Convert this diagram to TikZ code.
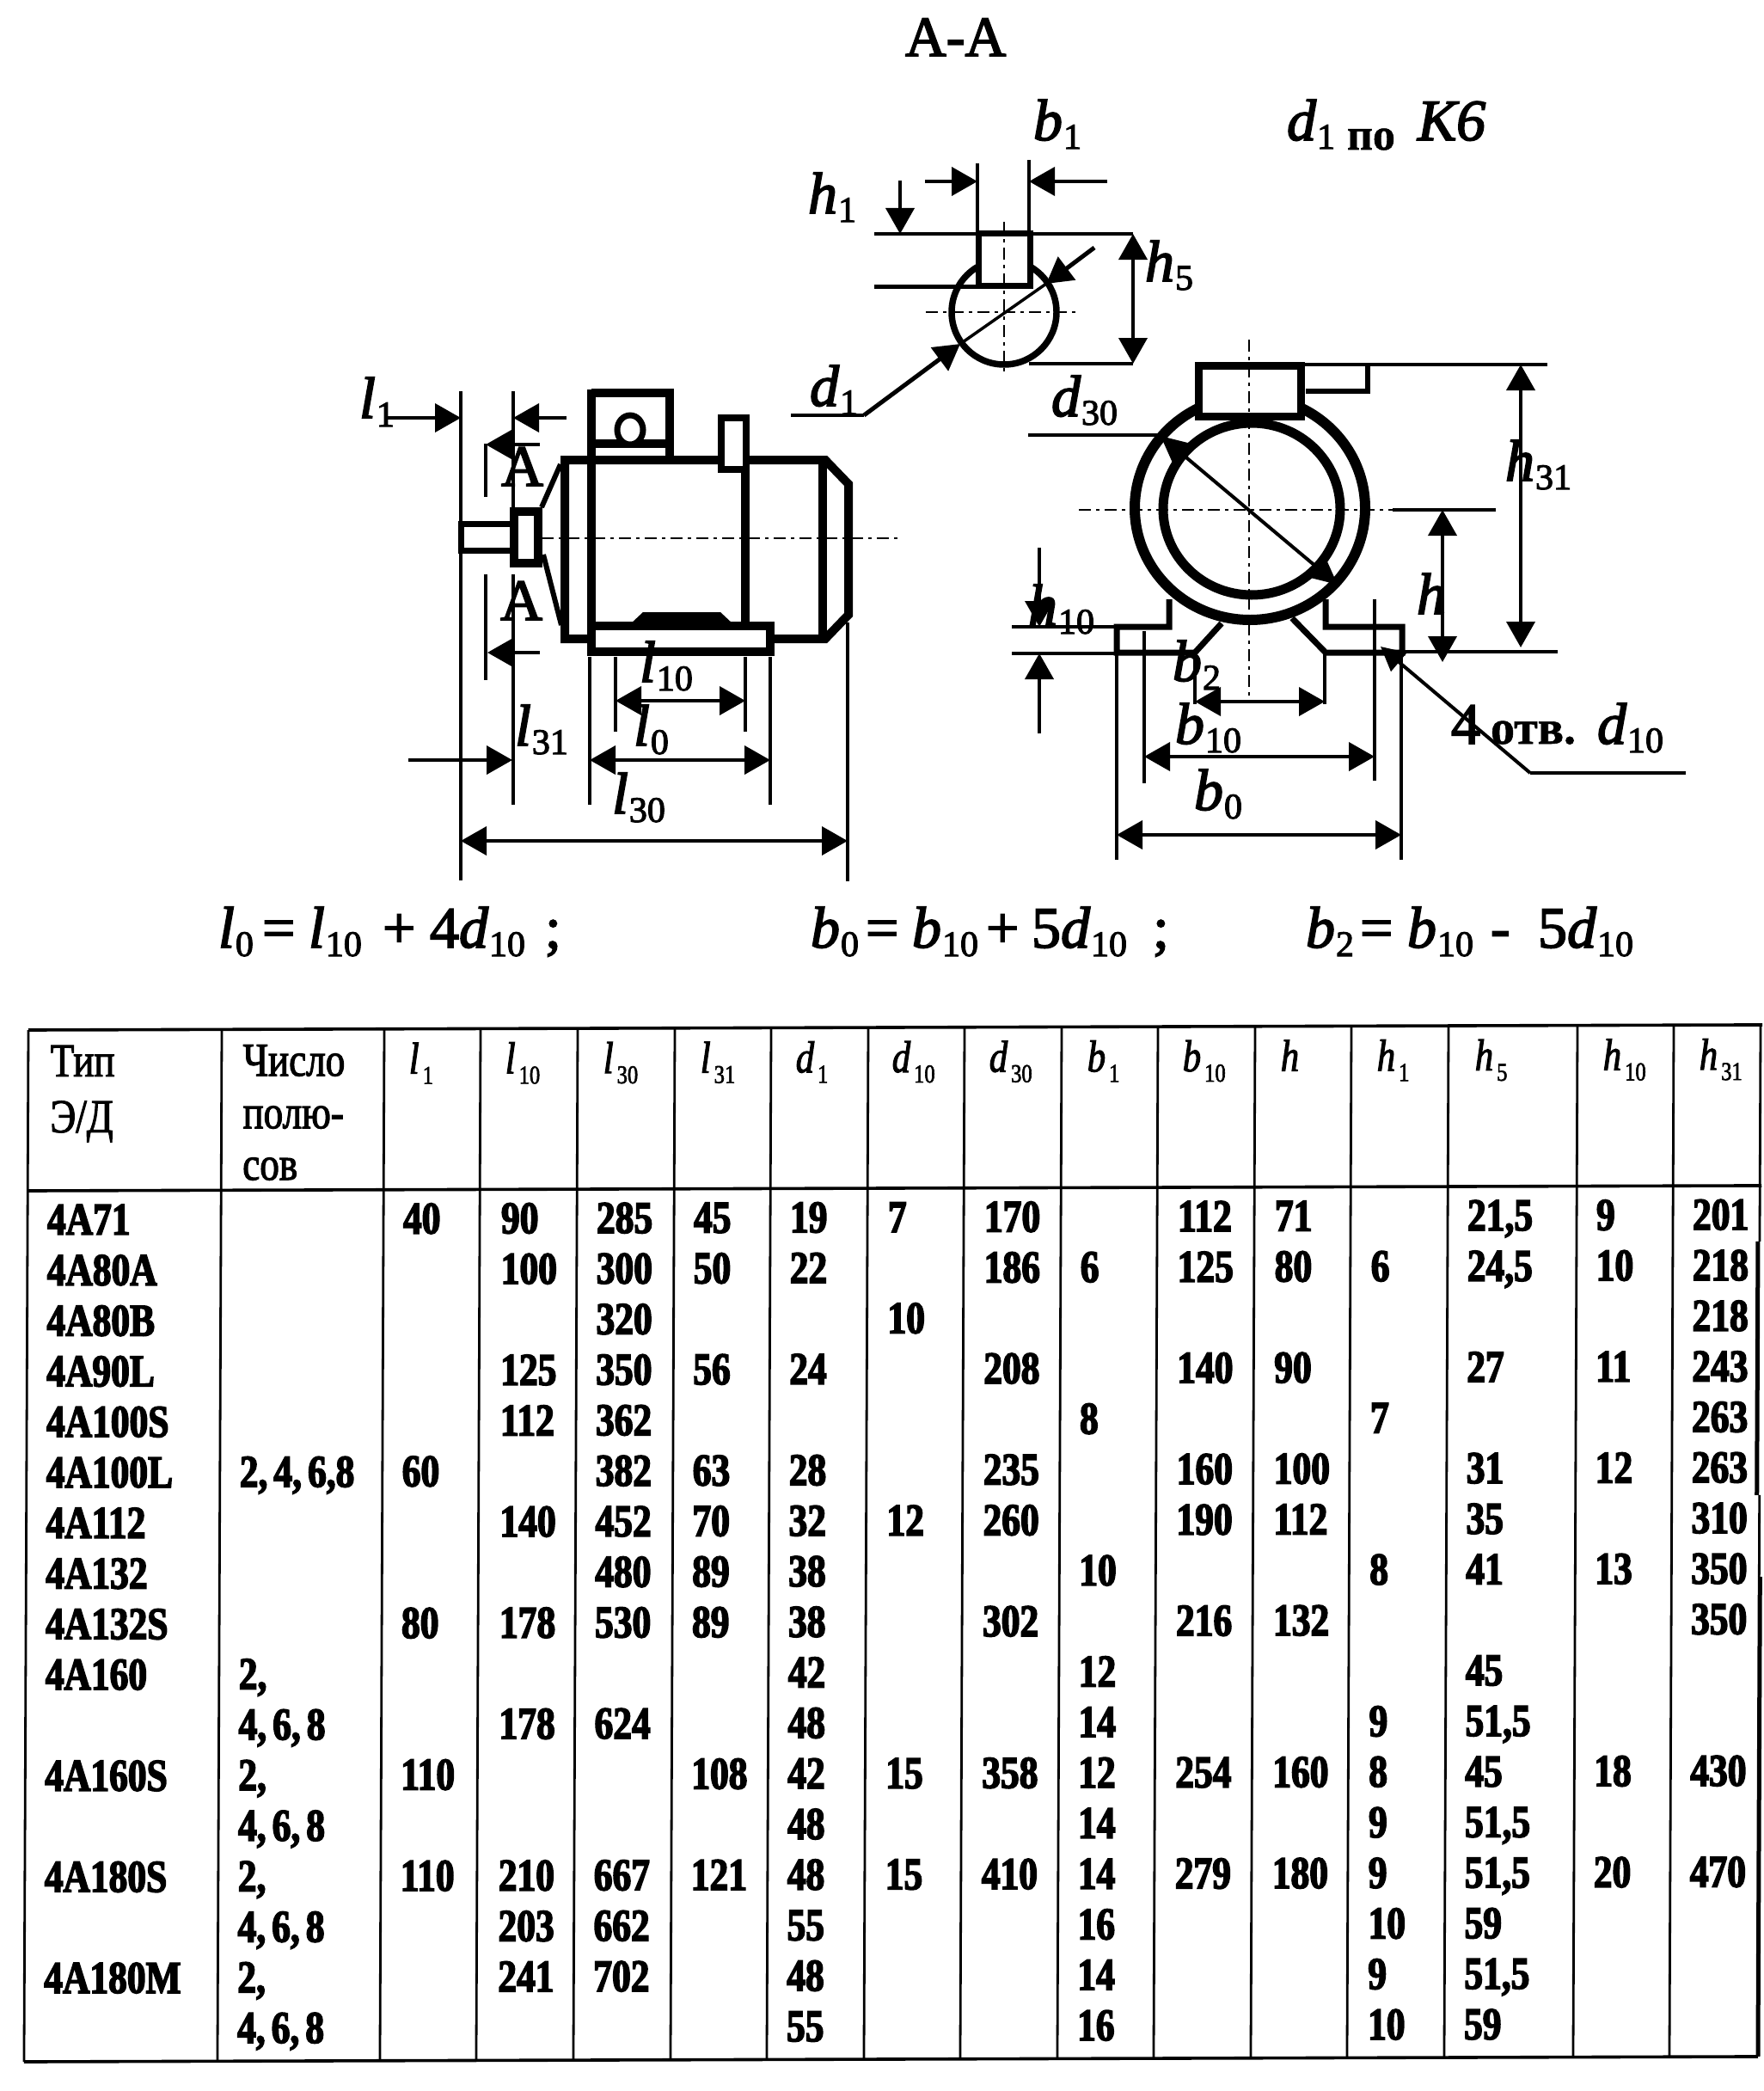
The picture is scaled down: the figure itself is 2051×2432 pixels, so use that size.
\documentclass[tikz,border=0pt]{standalone}
\usepackage{fontspec}
\usetikzlibrary{arrows.meta}
\setmainfont{Liberation Serif}
\newfontfamily\labfam[FakeBold=2.5]{Liberation Serif}
\newfontfamily\tabfam[FakeStretch=0.82,FakeBold=2]{Liberation Serif}
\newfontfamily\tabboldfam[FakeStretch=0.82,FakeBold=3,WordSpace=0.65,UprightFont=*,BoldFont=*]{Liberation Serif Bold}
\newfontfamily\smallfam[FakeBold=1]{Liberation Serif Bold}
\newcommand{\bigfs}{\fontsize{68}{68}\selectfont}
\newcommand{\subfs}{\fontsize{42}{42}\selectfont}
\newcommand{\sym}[2]{{\labfam\bigfs\itshape #1}\kern1pt\raisebox{-10pt}{\labfam\subfs #2}}
\newcommand{\up}[1]{{\labfam\bigfs #1}}
\newcommand{\hd}[2]{{\tabfam\fontsize{52}{52}\selectfont\itshape #1}\kern4pt\raisebox{-12pt}{\tabfam\fontsize{30}{30}\selectfont #2}}
\newcommand{\htx}[1]{{\tabfam\fontsize{55}{55}\selectfont #1}}
\tikzset{
  lab/.style={anchor=base west,inner sep=0pt,outer sep=0pt},
  cellnode/.style={anchor=base west,inner sep=0pt,outer sep=0pt,font=\tabboldfam\fontsize{53}{53}\selectfont},
  ext/.style={line width=3.2pt},
  both/.style={line width=4pt,{Triangle[length=30pt,width=33pt]}-{Triangle[length=30pt,width=33pt]}},
  tipend/.style={line width=4pt,-{Triangle[length=30pt,width=33pt]}},
  heavy/.style={line width=10pt,line join=miter},
  mid/.style={line width=7pt,line join=miter},
  cline/.style={line width=2.6pt,dash pattern=on 14pt off 6pt on 4pt off 6pt},
  grid/.style={line width=2.8pt},
}
\newcommand{\cells}[2]{\foreach \rw/\tx in {#2}{\pgfmathsetmacro\yy{1436+58.8*\rw}\node[cellnode] (c#1r\rw) at (#1,\yy) {\tx};}}
\begin{document}
\begin{tikzpicture}[x=1pt,y=-1pt]
\fill[white] (0,0) rectangle (2051,2432);
\useasboundingbox (0,0) rectangle (2051,2432);

% ---------- texts above
\node[lab] (title) at (1053,65) {\labfam\fontsize{66}{66}\selectfont A-A};
\node[lab] (dpo) at (1497,163) {\sym{d}{1}};
\node[lab] (po) at (1567,174) {\smallfam\fontsize{52}{52}\selectfont по};
\node[lab] (ksix) at (1649,163) {{\labfam\bigfs\itshape К6}};

% ---------- section A-A
\draw[line width=7.5pt] (1168,363) circle (61);
\draw[mid,fill=white] (1138,272) rectangle (1198,332);
\draw[line width=4pt] (1017,272) -- (1318,272);
\draw[line width=5pt] (1017,333) -- (1137,333);
\draw[line width=4pt] (1197,423) -- (1318,423);
\draw[ext] (1137,190) -- (1137,272);
\draw[ext] (1197,186) -- (1197,272);
\draw[tipend] (1076,211) -- (1137,211);
\draw[tipend] (1288,211) -- (1197,211);
\draw[tipend] (1047,210) -- (1047,272);
\draw[both] (1318,272) -- (1318,423);
\draw[cline] (1168,258) -- (1168,435);
\draw[cline] (1077,363) -- (1255,363);
\draw[line width=4pt] (920,483) -- (1005,483);
\draw[line width=5pt,-{Triangle[length=30pt,width=33pt]}] (1005,483) -- (1117,400);
\draw[line width=3.5pt] (1117,400) -- (1217,330);
\draw[line width=5pt,-{Triangle[length=30pt,width=33pt]}] (1273,288) -- (1217,330);
\node[lab] (b1) at (1202,163) {\sym{b}{1}};
\node[lab] (h1) at (940,248) {\sym{h}{1}};
\node[lab] (h5) at (1332,327) {\sym{h}{5}};
\node[lab] (d1) at (942,472) {\sym{d}{1}};

% ---------- side view
\draw[ext] (536,455) -- (536,1024);
\draw[ext] (597,455) -- (597,590);
\draw[ext] (597,668) -- (597,936);
\draw[ext] (565,516) -- (565,578);
\draw[ext] (565,668) -- (565,791);
\draw[tipend] (449,486) -- (536,486);
\draw[tipend] (659,486) -- (597,486);
\draw[tipend] (628,517) -- (565,517);
\draw[tipend] (628,759) -- (567,759);
% body
\draw[heavy] (900,743) -- (960,743) -- (987,715) -- (987,563) -- (960,535) -- (657,535) -- (657,743) -- (690,743);
\draw[heavy] (688,453) -- (688,758);
\draw[heavy] (867,535) -- (867,728);
\draw[heavy] (957,535) -- (957,743);
% cone
\draw[line width=6pt] (630,590) -- (652,540);
\draw[line width=6pt] (632,645) -- (653,727);
% junction box
\draw[heavy] (688,457) -- (779,457) -- (779,535);
\draw[heavy] (688,516) -- (779,516);
\draw[line width=7pt,fill=white] (733,500) ellipse (15 and 17);
\draw[heavy,line width=8pt,fill=white] (839,486) rectangle (868,546);
% shaft & bearing
\draw[mid] (594,609) -- (536,609) -- (536,640) -- (594,640);
\draw[heavy] (598,595) rectangle (626,655);
\draw[cline] (630,626) -- (1045,626);
% foot
\draw[heavy] (688,728) -- (896,728) -- (896,758) -- (688,758) -- cycle;
\fill (733,726) -- (748,712) -- (838,712) -- (853,726) -- cycle;
% extension lines
\draw[ext] (686,764) -- (686,936);
\draw[ext] (716,764) -- (716,851);
\draw[ext] (867,764) -- (867,851);
\draw[ext] (896,764) -- (896,936);
\draw[ext] (986,724) -- (986,1025);
% dims
\draw[both] (716,815) -- (867,815);
\draw[both] (686,884) -- (896,884);
\draw[tipend] (475,884) -- (596,884);
\draw[both] (536,978) -- (986,978);
\node[lab] (A1) at (583,565) {\up{A}};
\node[lab] (A2) at (582,721) {\up{A}};
\node[lab] (l1) at (418,486) {\sym{l}{1}};
\node[lab] (l10) at (744,793) {\sym{l}{10}};
\node[lab] (l0) at (737,867) {\sym{l}{0}};
\node[lab] (l31) at (599,867) {\sym{l}{31}};
\node[lab] (l30) at (712,946) {\sym{l}{30}};

% ---------- end view
\draw[line width=12pt] (1454,591) ellipse (134 and 130);
\draw[line width=11pt] (1456,592) ellipse (103 and 100);
\draw[heavy,line width=9pt,fill=white] (1394,425) rectangle (1513,484);
\draw[line width=6pt] (1519,455) -- (1591,455) -- (1591,424);
\draw[line width=3.5pt] (1513,424) -- (1800,424);
\draw[cline] (1453,395) -- (1453,816);
\draw[cline] (1255,593) -- (1620,593);
\draw[line width=3.5pt] (1620,593) -- (1740,593);
\draw[line width=4pt,{Triangle[length=30pt,width=28pt]}-{Triangle[length=30pt,width=28pt]}] (1350,507) -- (1556,680);
\draw[ext] (1196,506) -- (1350,506);
\draw[mid] (1360,697) -- (1360,729) -- (1299,729) -- (1299,759) -- (1390,759) -- (1421,725);
\draw[mid] (1503,719) -- (1542,759) -- (1631,759) -- (1631,729) -- (1542,729) -- (1542,697);
\draw[line width=3.5pt] (1177,729) -- (1299,729);
\draw[line width=3.5pt] (1177,760) -- (1299,760);
\draw[line width=3.5pt] (1631,758) -- (1812,758);
\draw[tipend] (1209,637) -- (1209,729);
\draw[tipend] (1209,853) -- (1209,760);
\draw[ext] (1299,760) -- (1299,1000);
\draw[ext] (1331,734) -- (1331,911);
\draw[ext] (1599,697) -- (1599,908);
\draw[ext] (1630,760) -- (1630,1000);
\draw[ext] (1390,760) -- (1390,819);
\draw[ext] (1541,760) -- (1541,819);
\draw[both] (1390,816) -- (1541,816);
\draw[both] (1331,880) -- (1599,880);
\draw[both] (1299,971) -- (1630,971);
\draw[both] (1678,593) -- (1678,770);
\draw[both] (1769,424) -- (1769,753);
\draw[line width=3.5pt] (1961,899) -- (1780,899);
\draw[line width=4pt,-{Triangle[length=28pt,width=28pt]}] (1780,899) -- (1606,752);
\node[lab] (d30) at (1223,484) {\sym{d}{30}};
\node[lab] (h31) at (1751,559) {\sym{h}{31}};
\node[lab] (h) at (1648,714) {{\labfam\bigfs\itshape h}};
\node[lab] (h10) at (1196,727) {\sym{h}{10}};
\node[lab] (b2) at (1364,792) {\sym{b}{2}};
\node[lab] (b10) at (1367,865) {\sym{b}{10}};
\node[lab] (b0) at (1389,942) {\sym{b}{0}};
\node[lab] (four) at (1688,865) {\up{4}};
\node[lab] (otv) at (1734,865) {\smallfam\fontsize{56}{56}\selectfont отв.};
\node[lab] (d10) at (1858,865) {\sym{d}{10}};

% ---------- equations
\node[lab] (e1) at (254,1102) {\sym{l}{0}};
\node[lab] (e2) at (305,1102) {\up{=}};
\node[lab] (e3) at (359,1102) {\sym{l}{10}};
\node[lab] (e4) at (445,1102) {\up{+}};
\node[lab] (e5) at (500,1102) {\up{4}\sym{d}{10}};
\node[lab] (e6) at (634,1102) {\up{;}};
\node[lab] (f1) at (943,1102) {\sym{b}{0}};
\node[lab] (f2) at (1007,1102) {\up{=}};
\node[lab] (f3) at (1061,1102) {\sym{b}{10}};
\node[lab] (f4) at (1147,1102) {\up{+}};
\node[lab] (f5) at (1200,1102) {\up{5}\sym{d}{10}};
\node[lab] (f6) at (1341,1102) {\up{;}};
\node[lab] (g1) at (1519,1102) {\sym{b}{2}};
\node[lab] (g2) at (1582,1102) {\up{=}};
\node[lab] (g3) at (1637,1102) {\sym{b}{10}};
\node[lab] (g4) at (1734,1102) {\up{-}};
\node[lab] (g5) at (1789,1102) {\up{5}\sym{d}{10}};

% ---------- table (slightly skewed scan)
\begin{scope}[cm={1,0.003,0.0042,1,(5.03pt,-0.1pt)}]
\draw[line width=3.6pt] (33,1198) -- (2050,1198);
\draw[line width=3.6pt] (33,1385) -- (2050,1385);
\draw[line width=3.6pt] (33,2398) -- (2050,2398);
\foreach \cx in {33,258,447,559,672,785,897,1010,1122,1235,1347,1460,1572,1685,1835,1947}
  \draw[grid] (\cx,1198) -- (\cx,2398);
\draw[grid] (2048,1198) -- (2048,1450);
\draw[line width=5pt] (2046,1450) -- (2046,1745);
\draw[grid] (2049,1745) -- (2049,1840);
\draw[line width=5pt] (2050,1840) -- (2050,2398);
% header
\node[lab] (h-a) at (59,1252) {\htx{Тип}};
\node[lab] (h-b) at (59,1317) {\htx{Э/Д}};
\node[lab] (h-c) at (283,1252) {\htx{Число}};
\node[lab] (h-d) at (283,1313) {\htx{полю-}};
\node[lab] (h-e) at (283,1373) {\htx{сов}};
\node[lab] (hc1) at (476,1250) {\hd{l}{1}};
\node[lab] (hc2) at (588,1250) {\hd{l}{10}};
\node[lab] (hc3) at (702,1250) {\hd{l}{30}};
\node[lab] (hc4) at (815,1250) {\hd{l}{31}};
\node[lab] (hc5) at (926,1250) {\hd{d}{1}};
\node[lab] (hc6) at (1038,1250) {\hd{d}{10}};
\node[lab] (hc7) at (1151,1250) {\hd{d}{30}};
\node[lab] (hc8) at (1265,1250) {\hd{b}{1}};
\node[lab] (hc9) at (1376,1250) {\hd{b}{10}};
\node[lab] (hc10) at (1490,1250) {\hd{h}{}};
\node[lab] (hc11) at (1602,1250) {\hd{h}{1}};
\node[lab] (hc12) at (1716,1250) {\hd{h}{5}};
\node[lab] (hc13) at (1865,1250) {\hd{h}{10}};
\node[lab] (hc14) at (1977,1250) {\hd{h}{31}};
% body
\cells{56}{0/4A71,1/4A80A,2/4A80B,3/4A90L,4/4A100S,5/4A100L,6/4A112,7/4A132,8/4A132S,9/4A160,11/4A160S,13/4A180S,15/4A180M}
\cells{281}{{5/2, 4, 6,8},{9/2,},{10/4, 6, 8},{11/2,},{12/4, 6, 8},{13/2,},{14/4, 6, 8},{15/2,},{16/4, 6, 8}}
\cells{470}{0/40,5/60,8/80,11/110,13/110}
\cells{584}{0/90,1/100,3/125,4/112,6/140,8/178,10/178,13/210,14/203,15/241}
\cells{695}{0/285,1/300,2/320,3/350,4/362,5/382,6/452,7/480,8/530,10/624,13/667,14/662,15/702}
\cells{808}{0/45,1/50,3/56,5/63,6/70,7/89,8/89,11/108,13/121}
\cells{920}{0/19,1/22,3/24,5/28,6/32,7/38,8/38,9/42,10/48,11/42,12/48,13/48,14/55,15/48,16/55}
\cells{1034}{0/7,2/10,6/12,11/15,13/15}
\cells{1146}{0/170,1/186,3/208,5/235,6/260,8/302,11/358,13/410}
\cells{1258}{1/6,4/8,7/10,9/12,10/14,11/12,12/14,13/14,14/16,15/14,16/16}
\cells{1371}{0/112,1/125,3/140,5/160,6/190,8/216,11/254,13/279}
\cells{1484}{0/71,1/80,3/90,5/100,6/112,8/132,11/160,13/180}
\cells{1596}{1/6,4/7,7/8,10/9,11/8,12/9,13/9,14/10,15/9,16/10}
\cells{1708}{{0/21,5},{1/24,5},3/27,5/31,6/35,7/41,9/45,{10/51,5},11/45,{12/51,5},{13/51,5},14/59,{15/51,5},16/59}
\cells{1858}{0/9,1/10,3/11,5/12,7/13,11/18,13/20}
\cells{1970}{0/201,1/218,2/218,3/243,4/263,5/263,6/310,7/350,8/350,11/430,13/470}
\end{scope}
\end{tikzpicture}
\end{document}
